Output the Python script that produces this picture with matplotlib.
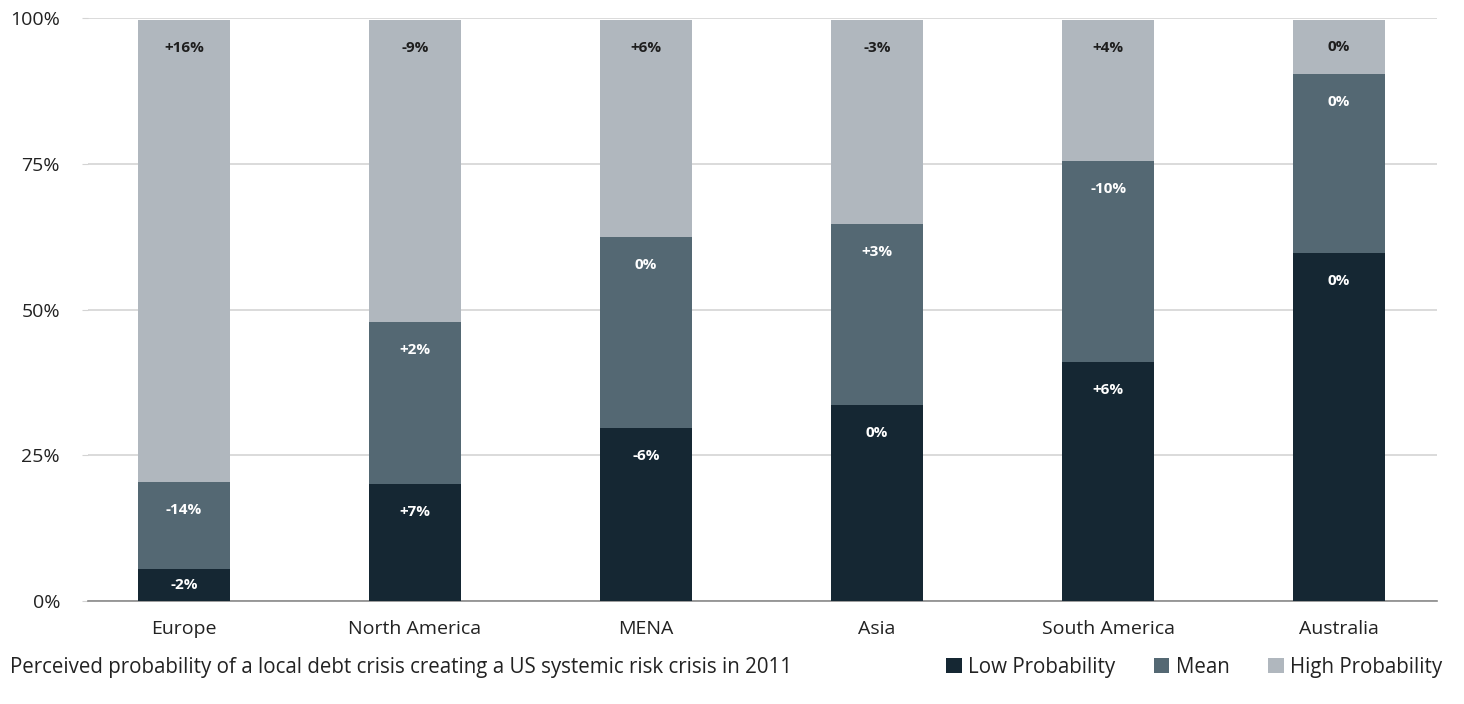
import matplotlib.pyplot as plt
from matplotlib.patches import Patch
import numpy as np

# shares of respondents per region (percent), stacked low -> mean -> high
regions = ["Europe", "North America", "MENA", "Asia", "South America", "Australia"]
low_prob = [5.5, 20.1, 29.6, 33.7, 41.0, 59.7]
mean_prob = [14.9, 27.8, 32.9, 31.0, 34.5, 30.7]
high_prob = [79.2, 51.7, 37.1, 34.9, 24.1, 9.2]

# change labels printed inside each segment
low_change = ["-2%", "+7%", "-6%", "0%", "+6%", "0%"]
mean_change = ["-14%", "+2%", "0%", "+3%", "-10%", "0%"]
high_change = ["+16%", "-9%", "+6%", "-3%", "+4%", "0%"]

series_names = ["Low Probability", "Mean", "High Probability"]
colors = ["#152733", "#546873", "#b0b7be"]
label_colors = ["white", "white", "#1e1e1e"]

plt.rcParams["font.family"] = ["Open Sans", "DejaVu Sans"]

fig = plt.figure(figsize=(14.64, 7.04), dpi=100)
ax = fig.add_axes([0.060, 0.1463, 0.9216, 0.8281])

x = np.arange(len(regions))
width = 0.40
bottom = np.zeros(len(regions))
series = [low_prob, mean_prob, high_prob]
changes = [low_change, mean_change, high_change]

for vals, labs, col, tcol in zip(series, changes, colors, label_colors):
    vals = np.array(vals)
    ax.bar(x, vals, width, bottom=bottom, color=col, zorder=3)
    tops = bottom + vals
    for xi, top, v, lab in zip(x, tops, vals, labs):
        off = min(4.8, v / 2)
        ax.text(xi, top - off, lab, ha="center", va="center", color=tcol,
                fontsize=11, fontweight="bold", zorder=4)
    bottom = tops

ax.set_xlim(-0.416, 5.424)
ax.set_ylim(0, 100)
ax.set_yticks([0, 25, 50, 75, 100])
ax.set_yticklabels(["0%", "25%", "50%", "75%", "100%"])
ax.set_xticks(x)
ax.set_xticklabels(regions)
ax.yaxis.grid(True, color="#d4d4d4", linewidth=1.2, zorder=0)
ax.tick_params(axis="y", length=4, color="#d4d4d4", labelsize=14, pad=16,
               labelcolor="#222222")
ax.tick_params(axis="x", length=0, labelsize=14, pad=14, labelcolor="#222222")
for side in ["top", "right", "left"]:
    ax.spines[side].set_visible(False)
ax.spines["bottom"].set_color("#8a8a8a")
ax.spines["bottom"].set_linewidth(1.2)

fig.text(0.007, 0.052, "Perceived probability of a local debt crisis creating a US systemic risk crisis in 2011",
         ha="left", va="center", fontsize=14.8, color="#222222")

handles = [Patch(facecolor=c, label=n) for c, n in zip(colors, series_names)]
fig.legend(handles=handles, loc="center right", bbox_to_anchor=(0.985, 0.052),
           ncol=3, frameon=False, fontsize=14.8, handlelength=0.75, handleheight=0.75,
           handletextpad=0.3, columnspacing=1.9, borderaxespad=0, borderpad=0,
           labelcolor="#222222")

fig.savefig("out.png", dpi=100)
